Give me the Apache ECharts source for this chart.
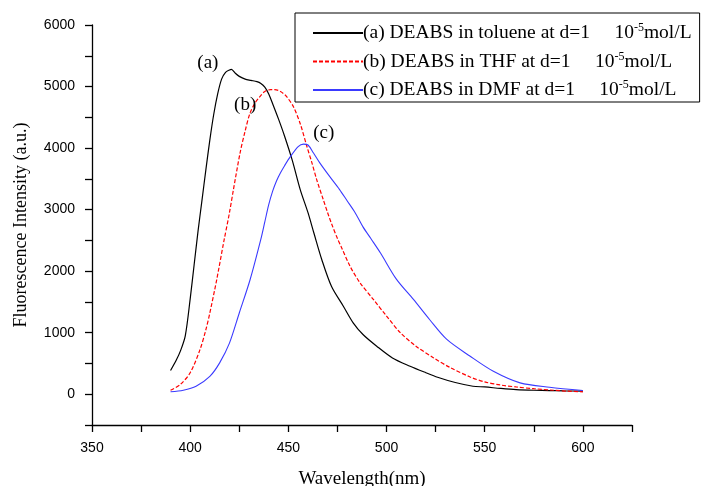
<!DOCTYPE html>
<html>
<head>
<meta charset="utf-8">
<script src="https://cdn.jsdelivr.net/npm/echarts@6/dist/echarts.min.js"></script>
<style>html,body{margin:0;padding:0;background:#fff}#c{width:701px;height:486px}</style>
</head>
<body>
<div id="c"></div>
<script>
// ---- data (wavelength nm, intensity a.u.) ----
const toluene = [[390,385],[393,560],[395,700],[397.5,950],[400,1550],[402,2100],[404,2650],[406,3150],[408,3650],[410,4130],[412,4550],[414,4880],[416,5120],[418,5230],[420,5270],[421,5280],[423,5215],[425,5165],[428,5120],[431,5100],[434,5080],[436,5050],[438,4990],[440,4880],[442,4720],[445,4470],[448,4200],[452,3800],[456,3330],[460,2950],[463,2620],[467,2190],[472,1750],[478,1430],[483,1160],[488,970],[495,780],[503,590],[512,455],[520,350],[526,276],[535,190],[544,130],[550,118],[558,95],[566,76],[575,65],[583,60],[590,55],[600,50]];
const thf = [[390,65],[395,160],[400,350],[405,725],[408,1050],[410,1320],[413.5,1860],[417,2460],[420,2950],[422,3320],[425.4,3920],[428,4280],[430.5,4570],[433,4730],[435.6,4840],[438,4920],[441,4950],[443,4950],[446,4920],[449,4840],[452.6,4670],[456,4400],[459.4,4030],[462,3760],[464.5,3480],[467.8,3160],[470,2950],[472,2770],[475,2530],[477,2390],[481.4,2080],[486.5,1810],[493.3,1540],[500,1270],[507,1000],[515,780],[524,590],[532,440],[542.6,280],[550,200],[558,150],[566,118],[575,90],[585,65],[592,50],[600,39]];
const dmf = [[390,40],[396.5,65],[403,130],[410,290],[415,510],[420,830],[425,1320],[430.5,1860],[436,2520],[438,2800],[440,3080],[442,3300],[444,3470],[446,3600],[448,3710],[451,3860],[455,4025],[457.7,4065],[460,4050],[462.8,3920],[466,3760],[471,3540],[476,3330],[480,3140],[484,2950],[488,2720],[492,2530],[497,2290],[505,1870],[513.7,1540],[522,1210],[530.7,890],[542.6,617],[554.4,373],[568,185],[583,114],[600,60]];
const seriesNames = ['(a) DEABS in toluene at d=1', '(b) DEABS in THF at d=1', '(c) DEABS in DMF at d=1'];
const peakTags = ['(a)', '(b)', '(c)'];
const xTicks = [350, 400, 450, 500, 550, 600];
const yTicks = [0, 1000, 2000, 3000, 4000, 5000, 6000];

const serif = 'Liberation Serif';
const sans = 'Liberation Sans';
const tagStyle = {fontFamily: serif, fontSize: 19, color: '#000'};
function tag(text, coord) {
  return {symbol: 'circle', symbolSize: 0, data: [{coord: coord, label: Object.assign({show: true, formatter: text, position: 'inside'}, tagStyle)}]};
}

const chart = echarts.init(document.getElementById('c'), null, {renderer: 'canvas'});
chart.setOption({
  animation: false,
  backgroundColor: '#fff',
  grid: {left: 92, right: 69, top: 25, bottom: 61, containLabel: false, outerBoundsMode: 'none'},
  legend: {
    left: 295, top: 13, orient: 'vertical',
    data: seriesNames,
    borderColor: '#000', borderWidth: 1, borderRadius: 0,
    padding: [9, 8, 2, 17], itemGap: 7.5, itemWidth: 50, itemHeight: 14,
    itemStyle: {opacity: 0},
    formatter: function (n) { return '{n|' + n + '     10}{s|-5}{n|mol/L}'; },
    textStyle: {
      fontFamily: serif, fontSize: 19.5, color: '#000', padding: [0, 0, 0, -5],
      rich: {n: {fontFamily: serif, fontSize: 19.5, lineHeight: 22, color: '#000'},
             s: {fontFamily: serif, fontSize: 12, verticalAlign: 'top', lineHeight: 22, color: '#000'}}
    }
  },
  xAxis: {
    type: 'value', min: 350, max: 625, interval: 25,
    name: 'Wavelength(nm)', nameLocation: 'middle', nameGap: 45,
    nameTextStyle: {fontFamily: serif, fontSize: 19, color: '#000'},
    axisLine: {show: true, onZero: false, lineStyle: {color: '#000', width: 1.3}},
    axisTick: {show: true, inside: false, length: 7, lineStyle: {color: '#000', width: 1.3}},
    axisLabel: {fontFamily: sans, fontSize: 14, color: '#000', margin: 16,
      formatter: function (v) { return xTicks.indexOf(v) >= 0 ? String(v) : ''; }},
    splitLine: {show: false}
  },
  yAxis: {
    type: 'value', min: -500, max: 6000, interval: 500,
    name: 'Fluorescence Intensity (a.u.)', nameLocation: 'middle', nameGap: 62,
    nameTextStyle: {fontFamily: serif, fontSize: 18, color: '#000'},
    axisLine: {show: true, onZero: false, lineStyle: {color: '#000', width: 1.3}},
    axisTick: {show: true, inside: false, length: 7, lineStyle: {color: '#000', width: 1.3}},
    axisLabel: {fontFamily: sans, fontSize: 14, color: '#000', margin: 17,
      formatter: function (v) { return yTicks.indexOf(v) >= 0 ? String(v) : ''; }},
    splitLine: {show: false}
  },
  series: [
    {name: seriesNames[0], type: 'line', data: toluene, symbol: 'none', smooth: 0.3,
     lineStyle: {color: '#000', width: 1.2}, itemStyle: {color: '#000'},
     markPoint: tag(peakTags[0], [409, 5390])},
    {name: seriesNames[1], type: 'line', data: thf, symbol: 'none', smooth: 0.3,
     lineStyle: {color: '#ff0000', width: 1.2, type: [4, 2]}, itemStyle: {color: '#ff0000'},
     markPoint: tag(peakTags[1], [428, 4700])},
    {name: seriesNames[2], type: 'line', data: dmf, symbol: 'none', smooth: 0.3,
     lineStyle: {color: '#3a3aff', width: 1.1}, itemStyle: {color: '#3a3aff'},
     markPoint: tag(peakTags[2], [468, 4250])}
  ]
});
</script>
</body>
</html>
